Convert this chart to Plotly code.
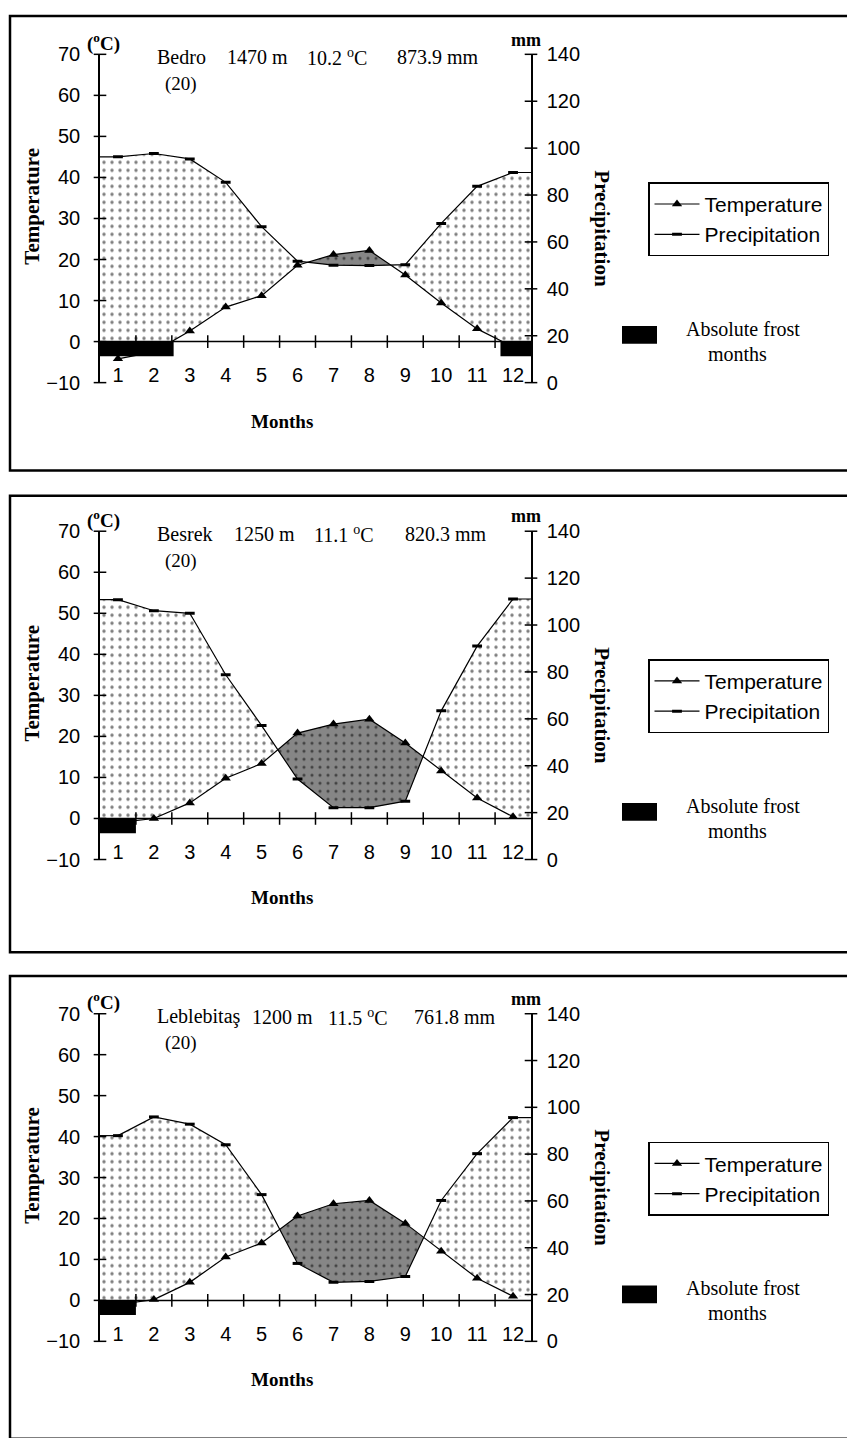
import numpy as np
import plotly.graph_objects as go

# ---------------- data ----------------
MONTHS = list(range(1, 13))
MONTH_LABELS = [str(m) for m in MONTHS]
TEMP_TICKS = list(range(-10, 71, 10))
PREC_TICKS = list(range(0, 141, 20))
TEMP_RANGE = [-10, 70]
PREC_RANGE = [0, 140]

STATIONS = ["Bedro", "Besrek", "Leblebitaş"]
ELEVATION_M = [1470, 1250, 1200]
MEAN_TEMP_C = ["10.2", "11.1", "11.5"]
ANNUAL_PRECIP_MM = ["873.9", "820.3", "761.8"]
YEARS = [20, 20, 20]

TEMP_BEDRO = [-4.2, -2.5, 2.6, 8.4, 11.2, 18.6, 21.2, 22.2, 16.2, 9.4, 3.1, -1.3]
PREC_BEDRO = [96.3, 97.7, 95.4, 85.4, 66.5, 51.8, 50.1, 49.9, 50.3, 67.9, 83.7, 89.6]
FROST_BEDRO = [(0.5, 2.55), (11.65, 12.5)]

TEMP_BESREK = [-1.0, 0.0, 3.8, 9.8, 13.4, 20.8, 23.0, 24.2, 18.4, 11.6, 5.0, 0.4]
PREC_BESREK = [110.8, 106.1, 105.0, 78.8, 57.1, 34.3, 22.1, 22.1, 24.9, 63.4, 91.0, 111.1]
FROST_BESREK = [(0.5, 1.5)]

TEMP_LEBLEBITAS = [-1.0, 0.2, 4.4, 10.6, 14.0, 20.6, 23.6, 24.4, 18.8, 12.0, 5.4, 1.0]
PREC_LEBLEBITAS = [87.9, 95.9, 92.8, 84.0, 62.7, 33.3, 25.2, 25.6, 27.7, 60.2, 80.2, 95.6]
FROST_LEBLEBITAS = [(0.5, 1.5)]

TEMPS = [TEMP_BEDRO, TEMP_BESREK, TEMP_LEBLEBITAS]
PRECS = [PREC_BEDRO, PREC_BESREK, PREC_LEBLEBITAS]
FROSTS = [FROST_BEDRO, FROST_BESREK, FROST_LEBLEBITAS]

# ---------------- geometry (pixels) ----------------
W, H = 847, 1438
PX0, PX1 = 100, 531
Y70 = [44.0, 528.3, 1018.3]
YM10 = [377.4, 861.7, 1351.0]
BOX_TOP = [5, 492.3, 980]
BOX_BOTTOM = [466.7, 956, 1450]
FROST_DEPTH = -3.6
# x positions of the four header pieces per panel
HEAD_X = [[155, 225, 305, 395], [155, 232, 312, 403], [155, 250, 326, 412]]

SANS = "Liberation Sans, Arial, sans-serif"
SERIF = "Liberation Serif, Times New Roman, serif"


def px(x):
    return x / W


def py(y):
    return 1 - y / H


def prec_to_temp(p):
    p = np.asarray(p, dtype=float)
    return TEMP_RANGE[0] + (p - PREC_RANGE[0]) * (TEMP_RANGE[1] - TEMP_RANGE[0]) / (PREC_RANGE[1] - PREC_RANGE[0])


def level_crossings(xs, ys, level):
    out = []
    for i in range(len(xs) - 1):
        d0, d1 = ys[i] - level, ys[i + 1] - level
        if d0 * d1 < 0:
            t = d0 / (d0 - d1)
            out.append(xs[i] + t * (xs[i + 1] - xs[i]))
    return out


def band(xs, up, lo):
    pts = []
    for i in range(len(xs)):
        pts.append((xs[i], up[i], lo[i]))
        if i < len(xs) - 1:
            d0 = up[i] - lo[i]
            d1 = up[i + 1] - lo[i + 1]
            if d0 * d1 < 0:
                t = d0 / (d0 - d1)
                xc = xs[i] + t * (xs[i + 1] - xs[i])
                yc = up[i] + t * (up[i + 1] - up[i])
                pts.append((xc, yc, yc))
    runs, cur = [], []
    for p in pts:
        if p[1] - p[2] >= -1e-9:
            cur.append(p)
        else:
            if len(cur) > 1:
                runs.append(cur)
            cur = []
    if len(cur) > 1:
        runs.append(cur)
    X, Y = [], []
    for r in runs:
        xr = [p[0] for p in r]
        X += xr + xr[::-1] + [None]
        Y += [p[1] for p in r] + [p[2] for p in r][::-1] + [None]
    return X, Y


def note(text, x, y, size=19, xanchor="center", angle=0, family=SERIF):
    return dict(text=text, x=px(x), y=py(y), xref="paper", yref="paper", showarrow=False,
                textangle=angle, font=dict(family=family, size=size, color="black"),
                xanchor=xanchor, yanchor="middle")


fig = go.Figure()
layout = {}
shapes = []
annotations = []

for k in range(3):
    xa = "x" if k == 0 else f"x{k + 1}"
    yt = "y" if k == 0 else f"y{2 * k + 1}"
    yp = f"y{2 * k + 2}"
    xname = "xaxis" if k == 0 else f"xaxis{k + 1}"
    ytname = "yaxis" if k == 0 else f"yaxis{2 * k + 1}"
    ypname = f"yaxis{2 * k + 2}"
    legname = "legend" if k == 0 else f"legend{k + 1}"

    temp = np.array(TEMPS[k], dtype=float)
    prec = np.array(PRECS[k], dtype=float)
    prec_t = prec_to_temp(prec)

    # humid area (precipitation above temperature, floored at 0 °C)
    xs = [0.5] + MONTHS + [12.5]
    t_ext = [temp[0]] + list(temp) + [temp[-1]]
    p_ext = [prec_t[0]] + list(prec_t) + [prec_t[-1]]
    xs2 = sorted(set(xs) | set(level_crossings(xs, t_ext, 0.0)))
    lower = np.maximum(np.interp(xs2, xs, t_ext), 0.0)
    upper = np.interp(xs2, xs, p_ext)
    hx, hy = band(xs2, list(upper), list(lower))
    fig.add_trace(go.Scatter(
        x=hx, y=hy, xaxis=xa, yaxis=yt, mode="lines", fill="toself",
        line=dict(width=0), fillcolor="white",
        fillpattern=dict(shape=".", fgcolor="black", bgcolor="white", size=8, solidity=0.14),
        showlegend=False, hoverinfo="skip"))

    # arid area (temperature above precipitation)
    ax_, ay_ = band([float(m) for m in MONTHS], list(temp), list(prec_t))
    fig.add_trace(go.Scatter(
        x=ax_, y=ay_, xaxis=xa, yaxis=yt, mode="lines", fill="toself",
        line=dict(width=0), fillcolor="#868686",
        fillpattern=dict(shape=".", fgcolor="black", bgcolor="#868686", size=8, solidity=0.12),
        showlegend=False, hoverinfo="skip"))

    # temperature
    fig.add_trace(go.Scatter(
        x=MONTHS, y=list(temp), xaxis=xa, yaxis=yt, mode="lines+markers", name="Temperature",
        line=dict(color="black", width=1.2),
        marker=dict(symbol="triangle-up", size=9, color="black"),
        legend=legname, showlegend=True, hoverinfo="skip"))

    # precipitation
    fig.add_trace(go.Scatter(
        x=MONTHS, y=list(prec), xaxis=xa, yaxis=yp, mode="lines+markers", name="Precipitation",
        line=dict(color="black", width=1.2),
        marker=dict(symbol="line-ew", size=7, color="black", line=dict(color="black", width=3)),
        legend=legname, showlegend=True, hoverinfo="skip"))
    fig.add_trace(go.Scatter(
        x=[0.5, MONTHS[0], None, MONTHS[-1], 12.5],
        y=[prec[0], prec[0], None, prec[-1], prec[-1]],
        xaxis=xa, yaxis=yp, mode="lines", line=dict(color="black", width=1.2),
        showlegend=False, hoverinfo="skip"))

    # cross tick marks
    fig.add_trace(go.Scatter(
        x=[m + 0.5 for m in MONTHS[:-1]], y=[0] * (len(MONTHS) - 1), xaxis=xa, yaxis=yt,
        mode="markers", marker=dict(symbol="line-ns", size=9, line=dict(color="black", width=1.5)),
        cliponaxis=False, showlegend=False, hoverinfo="skip"))
    fig.add_trace(go.Scatter(
        x=[0.5] * len(TEMP_TICKS), y=TEMP_TICKS, xaxis=xa, yaxis=yt,
        mode="markers", marker=dict(symbol="line-ew", size=9, line=dict(color="black", width=1.5)),
        cliponaxis=False, showlegend=False, hoverinfo="skip"))
    fig.add_trace(go.Scatter(
        x=[12.5] * len(PREC_TICKS), y=PREC_TICKS, xaxis=xa, yaxis=yp,
        mode="markers", marker=dict(symbol="line-ew", size=9, line=dict(color="black", width=1.5)),
        cliponaxis=False, showlegend=False, hoverinfo="skip"))

    # frost bars
    for (f0, f1) in FROSTS[k]:
        shapes.append(dict(type="rect", xref=xa, yref=yt, x0=f0, x1=f1, y0=0, y1=FROST_DEPTH,
                           fillcolor="black", line=dict(width=0), layer="above"))
    # zero line (x axis)
    shapes.append(dict(type="line", xref=xa, yref=yt, x0=0.5, x1=12.5, y0=0, y1=0,
                       line=dict(color="black", width=1.5), layer="above"))

    # axes
    layout[xname] = dict(
        domain=[px(PX0), px(PX1)], range=[0.5, 12.5], tickvals=MONTHS, ticktext=MONTH_LABELS,
        ticks="", showline=False, showgrid=False, zeroline=False,
        anchor="free", position=py(YM10[k] - 22),
        tickfont=dict(family=SANS, size=20, color="black"))
    layout[ytname] = dict(
        domain=[py(YM10[k]), py(Y70[k])], range=TEMP_RANGE, tickvals=TEMP_TICKS,
        ticks="", showline=True, linecolor="black", linewidth=1.5, showgrid=False,
        zeroline=False, anchor=xa, side="left", ticklabelstandoff=14,
        tickfont=dict(family=SANS, size=20, color="black"))
    layout[ypname] = dict(
        overlaying=yt, range=PREC_RANGE, tickvals=PREC_TICKS,
        ticks="", showline=True, linecolor="black", linewidth=1.5, showgrid=False,
        zeroline=False, anchor=xa, side="right", ticklabelstandoff=10,
        tickfont=dict(family=SANS, size=20, color="black"))
    layout[legname] = dict(
        x=px(648), y=py(Y70[k] + 130), xanchor="left", yanchor="top",
        bordercolor="black", borderwidth=1.5, bgcolor="white", itemwidth=45,
        font=dict(family=SANS, size=21, color="black"), tracegroupgap=0)

    # panel border
    shapes.append(dict(type="rect", xref="paper", yref="paper", x0=px(10), x1=px(870),
                       y0=py(BOX_BOTTOM[k]), y1=py(BOX_TOP[k]),
                       line=dict(color="black", width=2.5), layer="below"))

    mid = (Y70[k] + YM10[k]) / 2
    hx0 = HEAD_X[k]
    annotations += [
        note("<b>(<sup>o</sup>C)</b>", 103, Y70[k] - 12, size=19),
        note(STATIONS[k], hx0[0], Y70[k] + 3, size=20, xanchor="left"),
        note(f"{ELEVATION_M[k]} m", hx0[1], Y70[k] + 3, size=20, xanchor="left"),
        note(f"{MEAN_TEMP_C[k]} <sup>o</sup>C", hx0[2], Y70[k] + 3, size=20, xanchor="left"),
        note(f"{ANNUAL_PRECIP_MM[k]} mm", hx0[3], Y70[k] + 3, size=20, xanchor="left"),
        note(f"({YEARS[k]})", 163, Y70[k] + 30, size=19, xanchor="left"),
        note("<b>mm</b>", 526, Y70[k] - 15, size=18),
        note("<b>Temperature</b>", 32, mid - 12, size=21, angle=-90),
        note("<b>Precipitation</b>", 602, mid + 10, size=21, angle=90),
        note("<b>Months</b>", 282, YM10[k] + 39, size=19),
        note("Absolute frost", 743, Y70[k] + 279, size=20),
        note("months", 737, Y70[k] + 304, size=20),
    ]
    shapes.append(dict(type="rect", xref="paper", yref="paper", x0=px(622), x1=px(657),
                       y0=py(Y70[k] + 294), y1=py(Y70[k] + 276), fillcolor="black",
                       line=dict(width=0)))

fig.update_layout(
    width=W, height=H, margin=dict(l=0, r=0, t=0, b=0, pad=0),
    paper_bgcolor="white", plot_bgcolor="white",
    shapes=shapes, annotations=annotations, **layout)

fig.write_html(
    "out.html",
    config={"displayModeBar": False},
    post_script=(
        "document.body.style.margin='0';document.body.style.overflow='hidden';"
        "var gd=document.getElementById('{plot_id}');"
        "gd.style.position='absolute';gd.style.top='0px';gd.style.left='0px';"
    ),
)
